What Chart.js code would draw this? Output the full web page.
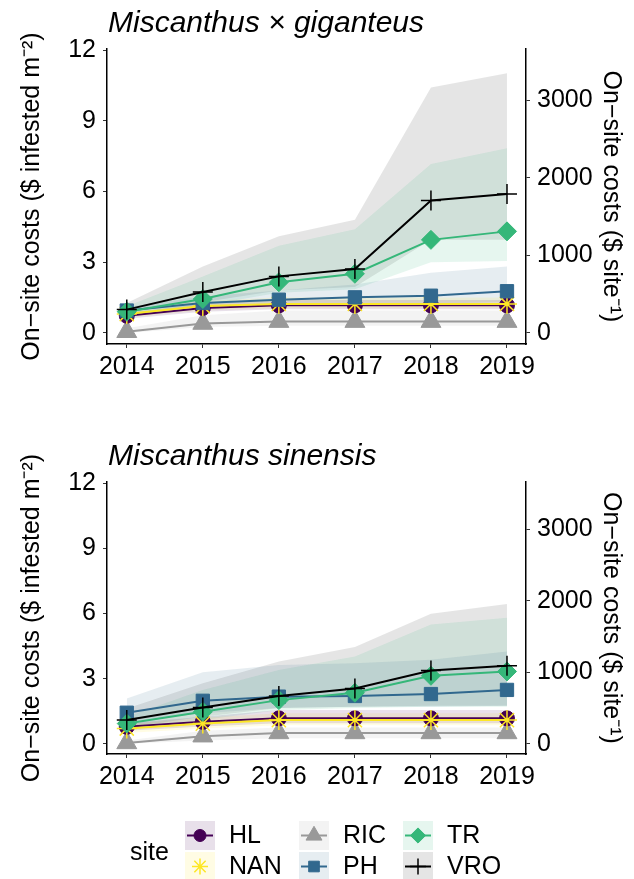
<!DOCTYPE html>
<html>
<head>
<meta charset="utf-8">
<script src="https://cdn.jsdelivr.net/npm/chart.js"></script>
<style>
  html, body { margin: 0; padding: 0; background: #fff; }
  #top { position: absolute; left: 0; top: 0; }
  #bottom { position: absolute; left: 0; top: 400px; }
</style>
</head>
<body>
<canvas id="top" width="634" height="400"></canvas>
<canvas id="bottom" width="634" height="479"></canvas>
<script>
// years on the x axis and tick labels
const years = [2014, 2015, 2016, 2017, 2018, 2019]
const leftTicks = [0, 3, 6, 9, 12]
const rightTicks = [0, 1000, 2000, 3000]
const sites = ["HL", "NAN", "RIC", "PH", "TR", "VRO"]

// Miscanthus x giganteus, $ per infested m2
const gigHL  = [0.73, 1.06, 1.17, 1.17, 1.17, 1.17]
const gigNAN = [0.80, 1.14, 1.23, 1.23, 1.23, 1.23]
const gigRIC = [0.05, 0.40, 0.48, 0.48, 0.48, 0.48]
const gigPH  = [0.95, 1.27, 1.41, 1.51, 1.58, 1.77]
const gigTR  = [0.90, 1.44, 2.15, 2.51, 3.95, 4.31]
const gigVRO = [0.99, 1.74, 2.40, 2.71, 5.62, 5.90]
// ribbons (low / high)
const gigHLlo  = [0.60, 0.90, 1.00, 1.00, 1.00, 1.00]
const gigHLhi  = [0.85, 1.25, 1.40, 1.40, 1.40, 1.40]
const gigNANlo = [0.65, 0.95, 1.05, 1.05, 1.05, 1.05]
const gigNANhi = [0.95, 1.35, 1.50, 1.50, 1.50, 1.50]
const gigRIClo = [0.00, 0.25, 0.30, 0.30, 0.30, 0.30]
const gigRIChi = [0.20, 0.75, 0.95, 0.95, 0.95, 0.95]
const gigPHlo  = [0.75, 1.05, 1.15, 1.20, 1.25, 1.30]
const gigPHhi  = [1.10, 1.55, 1.80, 2.05, 2.55, 2.82]
const gigTRlo  = [0.70, 1.15, 1.70, 1.85, 3.00, 3.05]
const gigTRhi  = [1.13, 2.40, 3.70, 4.40, 7.17, 7.84]
const gigVROlo = [0.85, 1.30, 1.80, 1.95, 3.95, 3.95]
const gigVROhi = [1.27, 2.82, 4.10, 4.80, 10.42, 11.02]

// Miscanthus sinensis
const sinHL  = [0.78, 1.01, 1.17, 1.17, 1.17, 1.17]
const sinNAN = [0.70, 0.93, 1.09, 1.09, 1.09, 1.09]
const sinRIC = [0.04, 0.35, 0.50, 0.50, 0.50, 0.50]
const sinPH  = [1.43, 1.98, 2.17, 2.20, 2.29, 2.48]
const sinTR  = [0.93, 1.47, 2.01, 2.35, 3.13, 3.33]
const sinVRO = [1.09, 1.67, 2.20, 2.55, 3.37, 3.59]
const sinHLlo  = [0.60, 0.80, 0.95, 0.95, 0.95, 0.95]
const sinHLhi  = [0.95, 1.25, 1.55, 1.55, 1.55, 1.55]
const sinNANlo = [0.50, 0.70, 0.85, 0.85, 0.85, 0.85]
const sinNANhi = [0.90, 1.20, 1.40, 1.40, 1.40, 1.40]
const sinRIClo = [0.00, 0.15, 0.25, 0.25, 0.25, 0.25]
const sinRIChi = [0.15, 0.60, 0.75, 0.75, 0.75, 0.75]
const sinPHlo  = [1.00, 1.40, 1.65, 1.70, 1.70, 1.75]
const sinPHhi  = [2.09, 3.29, 3.63, 3.71, 3.87, 4.25]
const sinTRlo  = [0.65, 1.10, 1.55, 1.65, 1.70, 1.70]
const sinTRhi  = [1.24, 2.48, 3.40, 4.02, 5.49, 5.80]
const sinVROlo = [0.75, 1.25, 1.65, 1.70, 1.75, 1.75]
const sinVROhi = [1.63, 2.79, 3.79, 4.45, 5.98, 6.44]

const FONT = '"Liberation Sans", Arial, Helvetica, sans-serif'
const DOLLARS_PER_UNIT = 304  // right axis ($ per site) vs left axis

const style = {
  HL:  { color: "#440154", band: "rgba(68,1,84,0.12)",    point: "circle",   r: 7.5 },
  NAN: { color: "#FDE725", band: "rgba(253,231,37,0.12)", point: "star",     r: 10 },
  RIC: { color: "#999999", band: "rgba(153,153,153,0.12)", point: "triangle", r: 11.5 },
  PH:  { color: "#31688E", band: "rgba(49,104,142,0.12)", point: "rect",     r: 9.4 },
  TR:  { color: "#35B779", band: "rgba(53,183,121,0.12)", point: "rectRot",  r: 9.5 },
  VRO: { color: "#000000", band: "rgba(0,0,0,0.10)",      point: "cross",    r: 10 },
}

Chart.defaults.font.family = FONT
Chart.defaults.color = "#000"

const xy = (arr) => arr.map((v, i) => ({ x: years[i], y: v }))

function buildDatasets(means, lows, highs) {
  const ds = []
  // lines first in the array so they are drawn on top of the ribbons
  const lineOrder = ["VRO", "TR", "PH", "NAN", "HL", "RIC"]
  lineOrder.forEach(s => {
    const st = style[s]
    ds.push({
      label: s, data: xy(means[s]), order: 1,
      borderColor: st.color, backgroundColor: st.color,
      borderWidth: 2, pointStyle: st.point, pointRadius: st.r,
      pointBorderWidth: (s === "NAN" || s === "VRO") ? 1.5 : 1,
      pointBorderColor: st.color, pointBackgroundColor: st.color,
      fill: false, tension: 0,
    })
  })
  sites.forEach(s => {
    const st = style[s]
    ds.push({ label: s + " lo", data: xy(lows[s]), order: 2, borderWidth: 0, pointRadius: 0, fill: false, borderColor: "rgba(0,0,0,0)" })
    ds.push({ label: s + " hi", data: xy(highs[s]), order: 2, borderWidth: 0, pointRadius: 0, fill: "-1", backgroundColor: st.band, borderColor: "rgba(0,0,0,0)" })
  })
  return ds
}

// panel title (italic species name) + the shared "site" legend
const panelDecor = {
  id: "panelDecor",
  afterDraw(chart, args, opts) {
    const ctx = chart.ctx
    const area = chart.chartArea
    ctx.save()
    ctx.fillStyle = "#000"
    ctx.font = "italic 30px " + FONT
    ctx.textBaseline = "alphabetic"
    ctx.textAlign = "left"
    ctx.fillText(opts.title, area.left + 1, area.top - 17)
    if (opts.legend) {
      ctx.font = "25px " + FONT
      ctx.textBaseline = "middle"
      ctx.fillText("site", 130, 453)
      const cols = [185, 299, 403]
      sites.forEach((s, i) => {
        const st = style[s]
        const kx = cols[Math.floor(i / 2)]
        const ky = 421 + (i % 2) * 31
        ctx.fillStyle = st.band
        ctx.fillRect(kx, ky, 30, 29)
        ctx.strokeStyle = st.color
        ctx.fillStyle = st.color
        ctx.lineWidth = 2
        if (s !== "NAN") {
          ctx.beginPath()
          ctx.moveTo(kx + 2, ky + 14.5)
          ctx.lineTo(kx + 28, ky + 14.5)
          ctx.stroke()
        }
        ctx.lineWidth = (s === "NAN" || s === "VRO") ? 1.5 : 1
        Chart.helpers.drawPoint(ctx, { pointStyle: st.point, rotation: 0, radius: st.r * 0.8, borderWidth: ctx.lineWidth }, kx + 15, ky + 14.5)
        ctx.fillStyle = "#000"
        ctx.fillText(s, kx + 44, ky + 15)
      })
    }
    ctx.restore()
  }
}

function makePanel(canvasId, title, means, lows, highs, pad, legend) {
  const ymin = -0.47, ymax = 12.05
  return new Chart(document.getElementById(canvasId), {
    type: "line",
    data: { datasets: buildDatasets(means, lows, highs) },
    plugins: [panelDecor],
    options: {
      responsive: false,
      animation: false,
      layout: { padding: pad },
      plugins: {
        legend: { display: false },
        tooltip: { enabled: false },
        panelDecor: { title, legend },
      },
      scales: {
        x: {
          type: "linear", min: 2013.74, max: 2019.25,
          afterBuildTicks: (sc) => { sc.ticks = years.map(v => ({ value: v })) },
          afterFit: (sc) => { sc.height = 46 },
          ticks: { callback: (v) => String(v), font: { size: 25 }, padding: 4, maxRotation: 0, autoSkip: false },
          grid: { drawOnChartArea: false, tickLength: 4, color: "#333" },
          border: { display: true, color: "#000", width: 1.5 },
        },
        y: {
          position: "left", min: ymin, max: ymax,
          afterBuildTicks: (sc) => { sc.ticks = leftTicks.map(v => ({ value: v })) },
          afterFit: (sc) => { sc.width = 97 },
          ticks: { callback: (v) => String(v), font: { size: 25 }, padding: 7 },
          grid: { drawOnChartArea: false, tickLength: 4, color: "#333" },
          border: { display: true, color: "#000", width: 1.5 },
          title: { display: true, text: "On\u2212site costs ($ infested m\u207B\u00B2)", font: { size: 25 }, padding: { top: 7, bottom: 0 } },
        },
        y1: {
          position: "right", min: ymin * DOLLARS_PER_UNIT, max: ymax * DOLLARS_PER_UNIT,
          afterBuildTicks: (sc) => { sc.ticks = rightTicks.map(v => ({ value: v })) },
          afterFit: (sc) => { sc.width = 108 },
          ticks: { callback: (v) => String(v), font: { size: 25 }, padding: 7 },
          grid: { drawOnChartArea: false, tickLength: 4, color: "#333" },
          border: { display: true, color: "#000", width: 1.5 },
          title: { display: true, text: "On\u2212site costs ($ site\u207B\u00B9)", font: { size: 25 }, padding: { top: 8, bottom: 0 } },
        },
      },
    },
  })
}

makePanel("top", "Miscanthus \u00D7 giganteus",
  { HL: gigHL, NAN: gigNAN, RIC: gigRIC, PH: gigPH, TR: gigTR, VRO: gigVRO },
  { HL: gigHLlo, NAN: gigNANlo, RIC: gigRIClo, PH: gigPHlo, TR: gigTRlo, VRO: gigVROlo },
  { HL: gigHLhi, NAN: gigNANhi, RIC: gigRIChi, PH: gigPHhi, TR: gigTRhi, VRO: gigVROhi },
  { left: 10, right: 0, top: 49, bottom: 10 }, false)

makePanel("bottom", "Miscanthus sinensis",
  { HL: sinHL, NAN: sinNAN, RIC: sinRIC, PH: sinPH, TR: sinTR, VRO: sinVRO },
  { HL: sinHLlo, NAN: sinNANlo, RIC: sinRIClo, PH: sinPHlo, TR: sinTRlo, VRO: sinVROlo },
  { HL: sinHLhi, NAN: sinNANhi, RIC: sinRIChi, PH: sinPHhi, TR: sinTRhi, VRO: sinVROhi },
  { left: 10, right: 0, top: 82, bottom: 79 }, true)
</script>
</body>
</html>
